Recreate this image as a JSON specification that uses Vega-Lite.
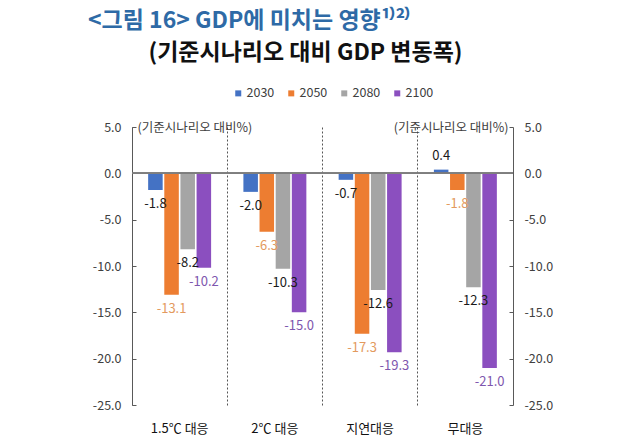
{
  "$schema": "https://vega.github.io/schema/vega-lite/v6.json",
  "autosize": {"type": "none"},
  "width": 381,
  "height": 278,
  "padding": {"left": 132, "top": 127, "right": 127, "bottom": 43},
  "background": "white",
  "config": {
    "font": "Noto Sans CJK KR",
    "view": {"stroke": null},
    "locale": {"number": {"decimal": ".", "thousands": ",", "grouping": [3], "currency": ["", ""], "minus": "-"}}
  },
  "title": {
    "text": "<그림 16> GDP에 미치는 영향¹⁾²⁾",
    "anchor": "start",
    "frame": "group",
    "dx": -44,
    "dy": -4,
    "offset": 4,
    "font": "Noto Sans CJK KR",
    "fontSize": 23,
    "fontWeight": "bold",
    "color": "#2E6AA6"
  },
  "data": {
    "values": [
      {"scenario": "1.5℃ 대응", "year": "2030", "value": -1.8},
      {"scenario": "1.5℃ 대응", "year": "2050", "value": -13.1},
      {"scenario": "1.5℃ 대응", "year": "2080", "value": -8.2},
      {"scenario": "1.5℃ 대응", "year": "2100", "value": -10.2},
      {"scenario": "2℃ 대응", "year": "2030", "value": -2.0},
      {"scenario": "2℃ 대응", "year": "2050", "value": -6.3},
      {"scenario": "2℃ 대응", "year": "2080", "value": -10.3},
      {"scenario": "2℃ 대응", "year": "2100", "value": -15.0},
      {"scenario": "지연대응", "year": "2030", "value": -0.7},
      {"scenario": "지연대응", "year": "2050", "value": -17.3},
      {"scenario": "지연대응", "year": "2080", "value": -12.6},
      {"scenario": "지연대응", "year": "2100", "value": -19.3},
      {"scenario": "무대응", "year": "2030", "value": 0.4},
      {"scenario": "무대응", "year": "2050", "value": -1.8},
      {"scenario": "무대응", "year": "2080", "value": -12.3},
      {"scenario": "무대응", "year": "2100", "value": -21.0}
    ]
  },
  "encoding": {
    "y": {
      "type": "quantitative",
      "scale": {"domain": [-25, 5], "nice": false, "zero": false}
    }
  },
  "layer": [
    {
      "mark": {"type": "bar"},
      "encoding": {
        "x": {
          "field": "scenario",
          "type": "nominal",
          "sort": null,
          "scale": {"paddingInner": 0, "paddingOuter": 0},
          "axis": {
            "title": null,
            "orient": "bottom",
            "labelAngle": 0,
            "labelFontSize": 13,
            "labelColor": "#111111",
            "labelPadding": 17,
            "domain": false,
            "ticks": false,
            "bandPosition": 0,
            "grid": true,
            "gridDash": [2, 2],
            "gridColor": "#555555",
            "gridWidth": 1
          }
        },
        "xOffset": {
          "field": "year",
          "type": "nominal",
          "scale": {"paddingInner": 0.1, "paddingOuter": 1.0}
        },
        "y": {
          "field": "value",
          "type": "quantitative",
          "axis": {
            "orient": "left",
            "values": [5, 0, -5, -10, -15, -20, -25],
            "format": ".1f",
            "grid": false,
            "labelFontSize": 12.5,
            "labelColor": "#404040",
            "labelPadding": 15,
            "domainColor": "#595959",
            "tickColor": "#595959",
            "tickSize": -4,
            "title": "(기준시나리오 대비%)",
            "titleAngle": 0,
            "titleX": 5,
            "titleY": 0,
            "titleAlign": "left",
            "titleBaseline": "middle",
            "titleFontSize": 12.5,
            "titleFontWeight": "normal",
            "titleColor": "#404040"
          }
        },
        "y2": {"datum": 0},
        "color": {
          "field": "year",
          "type": "nominal",
          "scale": {
            "domain": ["2030", "2050", "2080", "2100"],
            "range": ["#4472C4", "#ED7D31", "#A5A5A5", "#8B4FBF"]
          },
          "legend": {
            "orient": "none",
            "direction": "horizontal",
            "legendX": 100,
            "legendY": -40,
            "title": null,
            "symbolType": "square",
            "symbolSize": 36,
            "labelFontSize": 12.5,
            "labelColor": "#404040",
            "columnPadding": 10,
            "labelOffset": 2
          }
        }
      }
    },
    {
      "mark": {"type": "rule", "color": "#7F7F7F", "strokeWidth": 1},
      "encoding": {
        "y": {
          "datum": 0,
          "type": "quantitative",
          "axis": {
            "orient": "right",
            "values": [5, 0, -5, -10, -15, -20, -25],
            "format": ".1f",
            "grid": false,
            "labelFontSize": 12.5,
            "labelColor": "#404040",
            "labelPadding": 15,
            "domainColor": "#595959",
            "tickColor": "#595959",
            "tickSize": -4,
            "title": "(기준시나리오 대비%)",
            "titleAngle": 0,
            "titleX": -5,
            "titleY": 0,
            "titleAlign": "right",
            "titleBaseline": "middle",
            "titleFontSize": 12.5,
            "titleFontWeight": "normal",
            "titleColor": "#404040"
          }
        },
        "x": {"value": 0},
        "x2": {"value": 381}
      }
    },
    {
      "transform": [{"filter": "datum.value < 0"}],
      "mark": {"type": "text", "dy": 14, "fontSize": 13, "baseline": "middle", "align": "center"},
      "encoding": {
        "x": {"field": "scenario", "type": "nominal", "sort": null, "axis": null},
        "xOffset": {"field": "year", "type": "nominal"},
        "y": {"field": "value", "type": "quantitative", "axis": null},
        "text": {"field": "value", "type": "quantitative", "format": ".1f"},
        "color": {
          "condition": [
            {"test": "datum.year === '2050'", "value": "#E39A5E"},
            {"test": "datum.year === '2100'", "value": "#7E56AE"}
          ],
          "value": "#1a1a1a"
        }
      }
    },
    {
      "transform": [{"filter": "datum.value >= 0"}],
      "mark": {"type": "text", "dy": -14, "fontSize": 13, "baseline": "middle", "align": "center", "color": "#1a1a1a"},
      "encoding": {
        "x": {
          "field": "scenario",
          "type": "nominal",
          "sort": null,
          "axis": {
            "orient": "top",
            "labels": false,
            "ticks": false,
            "domain": false,
            "grid": false,
            "title": "(기준시나리오 대비 GDP 변동폭)",
            "titleX": 173,
            "titleY": -75,
            "titleAlign": "center",
            "titleBaseline": "middle",
            "titleFont": "Noto Sans CJK KR",
            "titleFontSize": 23,
            "titleFontWeight": "bold",
            "titleColor": "#111111"
          }
        },
        "xOffset": {"field": "year", "type": "nominal"},
        "y": {"field": "value", "type": "quantitative", "axis": null},
        "text": {"field": "value", "type": "quantitative", "format": ".1f"}
      }
    }
  ],
  "resolve": {"axis": {"y": "independent", "x": "independent"}}
}
